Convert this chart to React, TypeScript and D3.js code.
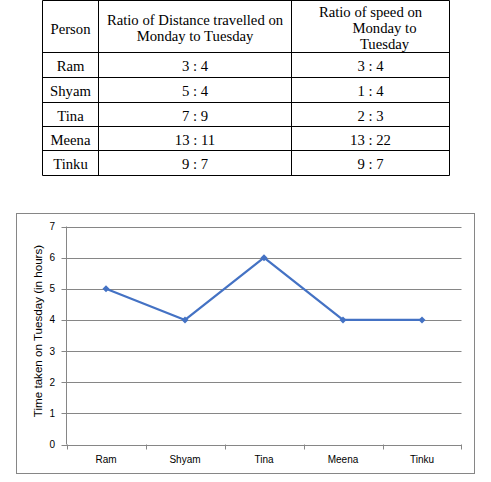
import React from "react";
import * as d3 from "d3";

const persons = ["Ram", "Shyam", "Tina", "Meena", "Tinku"];
const distanceRatios = ["3 : 4", "5 : 4", "7 : 9", "13 : 11", "9 : 7"];
const speedRatios = ["3 : 4", "1 : 4", "2 : 3", "13 : 22", "9 : 7"];
const timeTuesday = [5, 4, 6, 4, 4];
const yTicks = [0, 1, 2, 3, 4, 5, 6, 7];

export default function App() {
  const W = 491, H = 482;
  // table geometry
  const colX = [42.5, 98.5, 291.5, 449.5];
  const rowY = [0.5, 52.5, 77.5, 102.5, 126.5, 150.5, 175.5];
  const serif = "'Liberation Serif', 'DejaVu Serif', serif";
  const sans = "'Liberation Sans', Arial, sans-serif";

  // chart
  const x = d3.scaleBand<string>().domain(persons).range([66.5, 461.5]);
  const y = d3.scaleLinear().domain([0, 7]).range([444.5, 226.5]);
  const line = d3
    .line<number>()
    .x((_, i) => (x(persons[i]) as number) + x.bandwidth() / 2)
    .y((d) => y(d));

  const grid = "#868686";
  return (
    <svg width={W} height={H} style={{ position: "absolute", left: 0, top: 0 }}>
      <rect x={0} y={0} width={W} height={H} fill="#fff" />
      {/* table */}
      <g stroke="#000" strokeWidth={1}>
        {colX.map((cx, i) => (
          <line key={"c" + i} x1={cx} x2={cx} y1={rowY[0]} y2={rowY[rowY.length - 1]} />
        ))}
        {rowY.map((ry, i) => (
          <line key={"r" + i} x1={colX[0]} x2={colX[3]} y1={ry} y2={ry} />
        ))}
      </g>
      <g fontFamily={serif} fontSize={14.7} fill="#000" textAnchor="middle">
        <text x={70.5} y={34}>Person</text>
        <text x={195} y={25}>Ratio of Distance travelled on</text>
        <text x={195} y={41}>Monday to Tuesday</text>
        <text x={370.5} y={17}>Ratio of speed on</text>
        <text x={384.5} y={33}>Monday to</text>
        <text x={384.5} y={49}>Tuesday</text>
        {persons.map((p, i) => (
          <g key={p}>
            <text x={70.5} y={rowY[i + 1] + 18.5}>{p}</text>
            <text x={195} y={rowY[i + 1] + 18.5}>{distanceRatios[i]}</text>
            <text x={370.5} y={rowY[i + 1] + 18.5}>{speedRatios[i]}</text>
          </g>
        ))}
      </g>

      {/* chart frame */}
      <rect x={16.5} y={213.5} width={458} height={260} fill="#fff" stroke={grid} strokeWidth={1} />
      <g stroke={grid} strokeWidth={1}>
        {yTicks.map((t) => (
          <line key={t} x1={61.5} x2={461.5} y1={Math.round(y(t)) + 0.5} y2={Math.round(y(t)) + 0.5} />
        ))}
        <line x1={66.5} x2={66.5} y1={y(7)} y2={y(0)} />
        {persons.map((p) => (
          <line key={p} x1={Math.round(x(p) as number) + 0.5} x2={Math.round(x(p) as number) + 0.5} y1={y(0)} y2={y(0) + 5} />
        ))}
        <line x1={461.5} x2={461.5} y1={y(0)} y2={y(0) + 5} />
      </g>
      <g fontFamily={sans} fontSize={10} fill="#000">
        {yTicks.map((t) => (
          <text key={t} x={55} y={y(t) + 3.5} textAnchor="end">{t}</text>
        ))}
        {persons.map((p) => (
          <text key={p} x={(x(p) as number) + x.bandwidth() / 2} y={463} textAnchor="middle">{p}</text>
        ))}
        <text
          transform={`translate(42,331) rotate(-90)`}
          textAnchor="middle"
          fontSize={11.6}
        >
          Time taken on Tuesday  (in hours)
        </text>
      </g>
      <path d={line(timeTuesday) || ""} fill="none" stroke="#4472C4" strokeWidth={2.25} strokeLinejoin="round" />
      {timeTuesday.map((v, i) => {
        const cx = (x(persons[i]) as number) + x.bandwidth() / 2;
        const cy = y(v);
        return (
          <path key={i} d={`M${cx},${cy - 3.5}L${cx + 3.5},${cy}L${cx},${cy + 3.5}L${cx - 3.5},${cy}Z`} fill="#4472C4" />
        );
      })}
    </svg>
  );
}
